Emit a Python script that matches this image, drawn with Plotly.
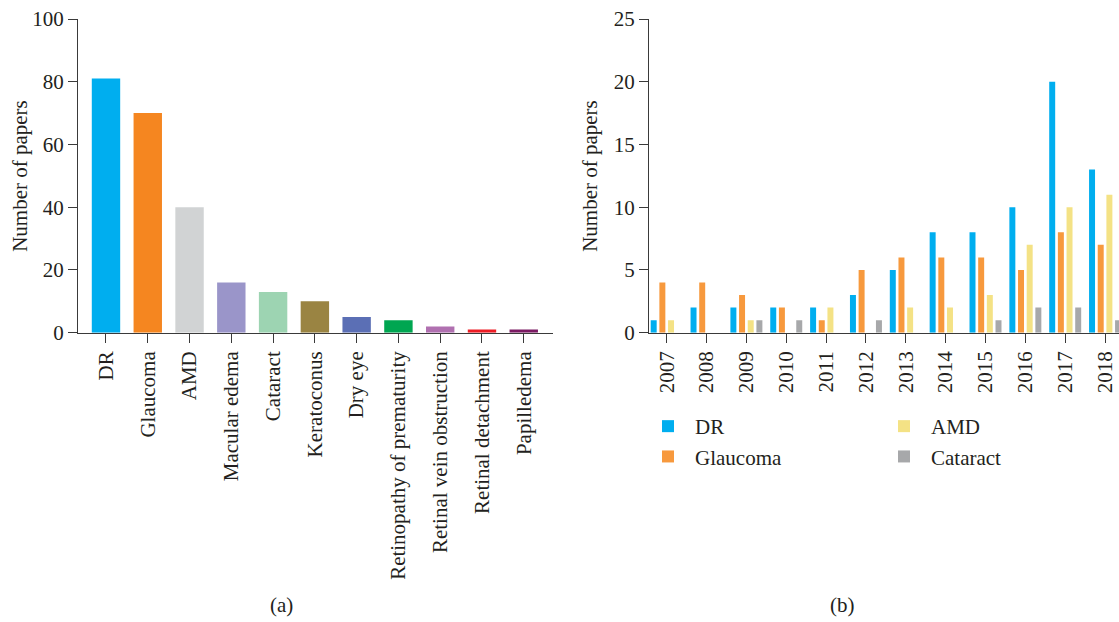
import plotly.graph_objects as go

# ---- data: panel (a) ----
diseases = ["DR", "Glaucoma", "AMD", "Macular edema", "Cataract", "Keratoconus",
            "Dry eye", "Retinopathy of prematurity", "Retinal vein obstruction",
            "Retinal detachment", "Papilledema"]
papers = [81, 70, 40, 16, 13, 10, 5, 4, 2, 1, 1]
disease_colors = ["#00AEEF", "#F58620", "#D1D3D4", "#9A95C9", "#9DD4B2", "#9A8442",
                  "#5B6FB5", "#00A651", "#B070B0", "#ED1C24", "#7B1A63"]

# ---- data: panel (b) ----
years = ["2007", "2008", "2009", "2010", "2011", "2012", "2013", "2014",
         "2015", "2016", "2017", "2018"]
dr_by_year = [1, 2, 2, 2, 2, 3, 5, 8, 8, 10, 20, 13]
glaucoma_by_year = [4, 4, 3, 2, 1, 5, 6, 6, 6, 5, 8, 7]
amd_by_year = [1, 0, 1, 0, 2, 0, 2, 2, 3, 7, 10, 11]
cataract_by_year = [0, 0, 1, 1, 0, 1, 0, 0, 1, 2, 2, 1]
series_names = ["DR", "Glaucoma", "AMD", "Cataract"]
series_colors = ["#00AEEF", "#F7993D", "#F4E285", "#A7A8AA"]
series_legends = ["legend", "legend", "legend2", "legend2"]

FONT = "Liberation Serif"
TXT = "#231F20"
AX = "#3A3A3A"
W, H = 1119, 622

fig = go.Figure()

fig.add_trace(go.Bar(x=diseases, y=papers, marker=dict(color=disease_colors, line=dict(width=0)),
                     width=0.68, showlegend=False, xaxis="x", yaxis="y"))

for name, vals, col, lg in zip(series_names,
                               [dr_by_year, glaucoma_by_year, amd_by_year, cataract_by_year],
                               series_colors, series_legends):
    fig.add_trace(go.Bar(x=years, y=vals, name=name, marker=dict(color=col, line=dict(width=0)),
                         legend=lg, xaxis="x2", yaxis="y2"))

axis_common = dict(showgrid=False, zeroline=False, showline=True, linecolor=AX, linewidth=1.3,
                   ticks="outside", ticklen=9, tickwidth=1.3, tickcolor=AX, automargin=False,
                   tickfont=dict(family=FONT, size=21, color=TXT))

y_top = 1 - 19 / H
y_bot = 1 - 332.7 / H

legend_common = dict(orientation="v", xanchor="left", y=1 - 406 / H, yanchor="top",
                     itemwidth=44, font=dict(family=FONT, size=21, color=TXT),
                     bgcolor="rgba(0,0,0,0)", tracegroupgap=0)

fig.update_layout(
    width=W, height=H,
    margin=dict(l=0, r=0, t=0, b=0, autoexpand=False),
    paper_bgcolor="white", plot_bgcolor="white",
    barmode="group", bargap=0.13, bargroupgap=0.31,
    font=dict(family=FONT, color=TXT, size=21),
    xaxis=dict(domain=[78 / W, 553 / W], range=[-0.67, 10.7], tickangle=-90,
               anchor="y", **axis_common),
    yaxis=dict(domain=[y_bot, y_top], range=[0, 100], tickvals=[0, 20, 40, 60, 80, 100],
               anchor="x", **axis_common),
    xaxis2=dict(domain=[649 / W, 1.0], range=[-0.444, 11.35], tickangle=-90,
                anchor="y2", **axis_common),
    yaxis2=dict(domain=[y_bot, y_top], range=[0, 25], tickvals=[0, 5, 10, 15, 20, 25],
                anchor="x2", **axis_common),
    legend=dict(x=641 / W, **legend_common),
    legend2=dict(x=877 / W, **legend_common),
    showlegend=True,
)

fig.add_annotation(text="Number of papers", x=20 / W, y=(y_top + y_bot) / 2, xref="paper", yref="paper",
                   textangle=-90, showarrow=False, font=dict(family=FONT, size=21, color=TXT),
                   xanchor="center", yanchor="middle")
fig.add_annotation(text="Number of papers", x=590 / W, y=(y_top + y_bot) / 2, xref="paper", yref="paper",
                   textangle=-90, showarrow=False, font=dict(family=FONT, size=21, color=TXT),
                   xanchor="center", yanchor="middle")
fig.add_annotation(text="(a)", x=281 / W, y=1 - 605 / H, xref="paper", yref="paper", showarrow=False,
                   font=dict(family=FONT, size=21, color=TXT), xanchor="center", yanchor="middle")
fig.add_annotation(text="(b)", x=842 / W, y=1 - 605 / H, xref="paper", yref="paper", showarrow=False,
                   font=dict(family=FONT, size=21, color=TXT), xanchor="center", yanchor="middle")

fig.write_html("out.html", config={"displayModeBar": False},
               post_script="document.body.style.margin='0';document.body.style.overflow='hidden';")
